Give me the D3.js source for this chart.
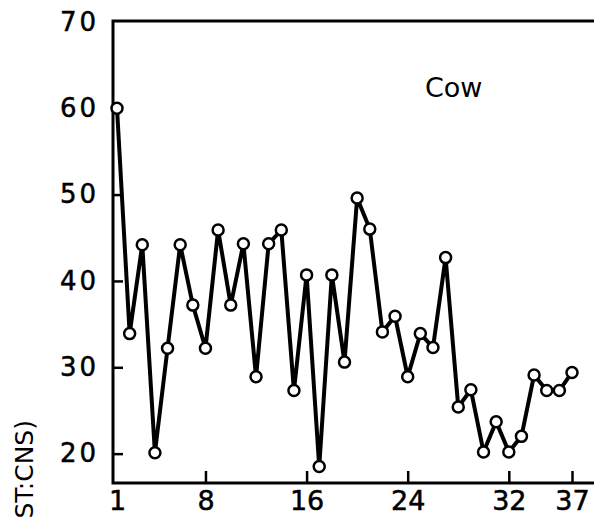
<!DOCTYPE html>
<html>
<head>
<meta charset="utf-8">
<script src="https://cdn.jsdelivr.net/npm/d3@7"></script>
<style>
  body { margin: 0; background: #fff; }
  svg { display: block; }
  .tick text { font-family: "DejaVu Sans", sans-serif; fill: #000; stroke: #000; stroke-width: 0.5px; }
</style>
</head>
<body>
<figure id="chart" style="margin:0"></figure>
<script>
// day number on x, value on y
const days = d3.range(1, 38);
const values = [60, 33.9, 44.2, 20.1, 32.2, 44.2, 37.2, 32.2, 45.9, 37.2,
                44.3, 28.9, 44.3, 45.9, 27.3, 40.7, 18.5, 40.7, 30.6, 49.6,
                46.0, 34.1, 35.9, 28.9, 33.9, 32.3, 42.7, 25.4, 27.4, 20.2,
                23.7, 20.2, 22.0, 29.1, 27.3, 27.3, 29.4];
const xTicks = [1, 8, 16, 24, 32, 37];
const yTicks = [20, 30, 40, 50, 60, 70];
const seriesName = "Cow";
const yLabel = "(% ST:CNS)";

const width = 594, height = 519;
const plotLeft = 113, plotTop = 21, plotBottom = 483, plotRight = 594;

const svg = d3.select("#chart").append("svg")
  .attr("width", width)
  .attr("height", height);

const x = d3.scaleLinear().domain([1, 37]).range([117, 572]);
const y = d3.scaleLinear().domain([16.6, 70.1]).range([plotBottom, plotTop]);

// frame: left, top and bottom lines
svg.append("path")
  .attr("d", `M${plotRight},${plotTop}H${plotLeft}V${plotBottom}H${plotRight}`)
  .attr("fill", "none")
  .attr("stroke", "#000")
  .attr("stroke-width", 3);

// y axis (ticks point inward)
const yAxis = svg.append("g")
  .attr("transform", `translate(${plotLeft},0)`)
  .call(d3.axisLeft(y).tickValues(yTicks).tickSize(-10).tickPadding(14).tickSizeOuter(0));
yAxis.select(".domain").remove();
yAxis.selectAll(".tick line").attr("stroke-width", 2.5)
  .filter(d => d === 70).remove();
yAxis.selectAll(".tick text")
  .style("font-size", "26px")
  .attr("letter-spacing", "3px");

// x axis (ticks point upward into the plot)
const xAxis = svg.append("g")
  .attr("transform", `translate(0,${plotBottom})`)
  .call(d3.axisBottom(x).tickValues(xTicks).tickSize(-12).tickPadding(8).tickSizeOuter(0));
xAxis.select(".domain").remove();
xAxis.selectAll(".tick line").attr("stroke-width", 2.5)
  .filter(d => d === 1).remove();
xAxis.selectAll(".tick text")
  .style("font-size", "27px");

// data line
const line = d3.line()
  .x((d, i) => x(days[i]))
  .y(d => y(d));

svg.append("path")
  .datum(values)
  .attr("d", line)
  .attr("fill", "none")
  .attr("stroke", "#000")
  .attr("stroke-width", 4)
  .attr("stroke-linejoin", "miter");

svg.selectAll(".pt")
  .data(values)
  .enter()
  .append("circle")
  .attr("class", "pt")
  .attr("cx", (d, i) => x(days[i]))
  .attr("cy", d => y(d))
  .attr("r", 5.5)
  .attr("fill", "#fff")
  .attr("stroke", "#000")
  .attr("stroke-width", 2.5);

// series label
svg.append("text")
  .attr("x", 425)
  .attr("y", 97)
  .text(seriesName)
  .style("font-family", "DejaVu Sans, sans-serif")
  .style("font-size", "27px");

// y label, rotated and clipped by the bottom edge as in the scan
svg.append("text")
  .attr("transform", "translate(33,420) rotate(-90)")
  .attr("text-anchor", "end")
  .text(yLabel)
  .style("font-family", "DejaVu Sans, sans-serif")
  .style("font-size", "25px");
</script>
</body>
</html>
